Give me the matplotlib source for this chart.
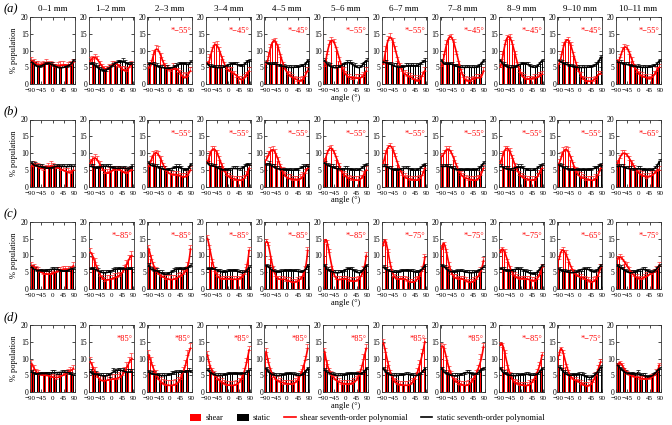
import numpy as np
import matplotlib
matplotlib.use("Agg")
import matplotlib.pyplot as plt
from matplotlib.patches import Patch
from matplotlib.lines import Line2D

# 字体设置（衬线体，接近原图）
plt.rcParams['font.family'] = ['Liberation Serif', 'DejaVu Serif']
plt.rcParams['axes.unicode_minus'] = True

# 角度分箱中心
angles = [-85, -75, -65, -55, -45, -35, -25, -15, -5, 5, 15, 25, 35, 45, 55, 65, 75, 85]
col_titles = ['0–1 mm', '1–2 mm', '2–3 mm', '3–4 mm', '4–5 mm', '5–6 mm',
              '6–7 mm', '7–8 mm', '8–9 mm', '9–10 mm', '10–11 mm']
row_tags = ['(a)', '(b)', '(c)', '(d)']

# ---- (a) ----
shear_a = [
    [7, 6.5, 6, 6, 5.5, 6, 6.5, 6, 6, 5.5, 5, 5.5, 6, 6, 5, 5.5, 6, 6.5],
    [7, 7.5, 8, 7.5, 6, 5, 4.5, 4.5, 5, 6, 6, 5.5, 5, 4.5, 4.5, 4, 5, 6],
    [5, 6, 9, 10.5, 10, 8, 6, 5, 4.5, 4, 5, 4.5, 3.5, 3, 2.5, 2, 2.5, 4],
    [6, 8, 10, 11.5, 11.8, 10, 7.5, 5.5, 4.5, 4, 4, 3, 2, 1.5, 1.5, 2, 2.5, 4],
    [6, 8.5, 11, 12.5, 12.8, 11, 8, 5.5, 4.5, 3, 2.5, 2, 1.5, 1, 1, 1.5, 2.5, 4],
    [5.5, 9, 12, 13, 12.5, 10, 7, 5, 4, 3, 2, 1.5, 1.5, 2, 2, 2, 2.5, 4],
    [6, 10, 13, 14, 12.5, 10, 7, 5, 4, 3, 2.5, 2, 1.5, 1.5, 1, 1.5, 2.5, 4],
    [5.5, 9, 12, 13.5, 14, 12.5, 9, 6, 3.5, 2, 1.5, 1, 1, 1.5, 2, 2, 2, 4],
    [5, 9, 12, 13.5, 14, 12, 9, 5.5, 3.5, 2.5, 2, 1.5, 1.5, 1.5, 2, 2, 2.5, 3],
    [6, 9, 11.5, 12.5, 13, 11.5, 8.5, 5.5, 4, 2.5, 1.5, 1, 1, 1, 1, 1.5, 3, 3],
    [6.5, 8, 10, 11, 10.5, 9, 7, 5, 3.5, 3, 2.5, 2, 2, 1.5, 2, 3, 4, 5],
]
static_a = [
    [6.5, 6, 5.5, 5, 5.5, 6, 6, 6, 6, 5.5, 5, 5, 5, 5, 5, 5.5, 6, 7],
    [6, 6, 5.5, 5, 4.5, 4, 4, 4.5, 5, 5.5, 6, 6.5, 6.5, 7, 6.5, 6, 6, 6],
    [6, 6, 6, 5.5, 5, 5, 5, 5, 4.5, 4.5, 5, 5.5, 6, 6, 6, 6, 6, 6.5],
    [6, 5.5, 5, 5, 5, 5, 5, 5, 5.5, 6, 6, 6, 6, 5.5, 5.5, 6, 6.5, 7],
    [6.5, 6, 6, 6, 6, 5.5, 5.5, 5.5, 5, 5, 5, 5, 5, 5, 5.5, 5.5, 6, 7],
    [7, 6, 5.5, 5, 5, 5, 5, 5.5, 6, 6.5, 6.5, 6, 5.5, 5, 5, 5.5, 6, 7],
    [6.5, 6.5, 6, 6, 5.5, 5.5, 5, 5, 5, 5.5, 5.5, 5.5, 5.5, 5.5, 5.5, 6, 6.5, 7],
    [7, 6, 6, 6, 6, 5.5, 5.5, 5, 5, 5, 5, 5, 5, 5, 5, 5.5, 6, 7],
    [7, 6, 5.5, 5, 5, 5, 5, 5.5, 6, 6, 6, 6, 5.5, 5, 5, 5.5, 6, 7],
    [7, 6.5, 6, 6, 5.5, 5.5, 5, 5, 5, 5, 5, 5, 5, 5, 5.5, 6, 6.5, 8],
    [6.5, 6.5, 6, 6, 6, 5.5, 5.5, 5, 5.5, 5, 5, 5, 5, 5, 5.5, 5.5, 6, 7],
]
shear_err_a = [1.0, 1.0, 1.2, 1.0, 1.0, 1.0, 1.2, 1.0, 1.0, 1.0, 1.0]
static_err_a = [0.6, 0.7, 0.7, 0.6, 0.6, 0.7, 0.7, 0.6, 0.6, 0.6, 0.6]
note_a = ['', '', '*−55°', '*−45°', '*−45°', '*−55°', '*−55°', '*−45°', '*−45°', '*−45°', '*−55°']

# ---- (b) ----
shear_b = [
    [6, 6.5, 6, 6, 5.5, 5, 5.5, 6, 6.5, 6, 5.5, 5.5, 5, 5, 4.5, 4.5, 4, 5],
    [7, 8, 8.5, 8, 6.5, 5, 4, 4, 4.5, 5, 5, 5, 5, 4.5, 4.5, 4, 4.5, 5],
    [6, 8, 9.5, 10, 9.5, 8, 6, 5, 4, 4, 3.5, 3.5, 3.5, 3, 3, 3, 3.5, 5],
    [7, 9.5, 11, 11, 10, 8, 6, 4.5, 3.5, 3, 2.5, 2, 2, 2, 2, 2.5, 3.5, 5.5],
    [8, 9.5, 10.5, 11, 10, 7.5, 5.5, 4.5, 3, 2.5, 2.5, 2, 2, 2, 2.5, 3, 4, 5.5],
    [7.5, 10, 11, 11.5, 10, 8, 6, 4.5, 3.5, 3, 2.5, 2, 2, 2, 2, 2.5, 3.5, 5],
    [7, 10, 11.5, 12, 11, 9, 6.5, 4.5, 3.5, 3, 2.5, 2, 2, 2, 2, 2.5, 3.5, 5.5],
    [9, 10, 11, 11, 10, 8, 6, 4.5, 3.5, 3, 2.5, 2, 2, 2, 2, 2.5, 3.5, 5.5],
    [7, 9.5, 11, 11, 10.5, 8.5, 6, 4.5, 3.5, 3, 2.5, 2, 2, 2, 2, 3, 4, 5.5],
    [7, 9, 10.5, 11, 10.5, 8, 6, 4.5, 3.5, 3, 2.5, 2, 2, 2, 2, 2.5, 3.5, 5.5],
    [7, 8.5, 10, 10, 9, 8, 7, 5.5, 4.5, 4, 3.5, 3, 2.5, 3, 3.5, 4, 4.5, 5],
]
static_b = [
    [7, 6.5, 6, 6, 6, 5.5, 5.5, 5.5, 5.5, 6, 6, 6, 6, 6, 6, 6, 6, 6],
    [6, 6, 5.5, 5.5, 6, 6, 6, 6, 6, 5.5, 5.5, 5.5, 5.5, 5.5, 5.5, 5, 5.5, 6],
    [7, 6.5, 6, 6, 5.5, 5.5, 5.5, 5, 5, 5, 5.5, 6, 6, 5.5, 5, 5, 5.5, 6.5],
    [7, 6.5, 6, 6, 5.5, 5.5, 5, 5, 5, 5, 5.5, 5.5, 5.5, 5, 5.5, 6, 6.5, 6.5],
    [6.5, 7, 6, 6, 5.5, 5.5, 5, 5, 5, 5, 5, 5, 5, 5, 5.5, 6, 6, 6],
    [7, 6.5, 6, 6, 5.5, 5.5, 5, 5, 5.5, 5.5, 5, 5, 5, 5, 5, 5.5, 6, 6.5],
    [6, 6, 5.5, 5.5, 5, 5, 5, 5, 5.5, 5.5, 5.5, 5, 5, 5, 5, 5.5, 6, 6.5],
    [6, 6, 6, 6, 5.5, 5.5, 5, 5, 5, 5, 5, 5, 5, 5, 5, 5.5, 6, 7],
    [6, 5.5, 5.5, 5.5, 5, 5, 5.5, 6, 6, 5.5, 5, 5, 5, 5, 5, 5.5, 6, 6.5],
    [6.5, 6, 5.5, 5.5, 5, 5, 5, 5, 5, 5, 5, 5, 5, 5, 5.5, 5.5, 6, 6.5],
    [6, 6, 6, 5.5, 5.5, 5.5, 5, 5, 5.5, 5.5, 5, 5, 5, 5, 5, 5.5, 6, 7.5],
]
shear_err_b = [1.0, 1.2, 1.0, 1.0, 1.2, 1.0, 1.0, 1.0, 1.0, 1.2, 1.0]
static_err_b = [0.7, 0.7, 0.6, 0.6, 0.6, 0.6, 0.6, 0.6, 0.6, 0.6, 0.6]
note_b = ['', '', '*−55°', '*−55°', '*−55°', '*−55°', '*−55°', '*−55°', '*−55°', '*−55°', '*−65°']

# ---- (c) ----
shear_c = [
    [7, 6.5, 6, 5.5, 5, 4.5, 4.5, 4.5, 4.5, 5, 5, 5.5, 5.5, 6, 6, 6, 6, 7],
    [11, 9.5, 8, 6, 4, 3, 2.5, 3, 3, 3, 3.5, 3.5, 4, 5, 6, 7.5, 9, 10],
    [12, 9, 7, 5.5, 4.5, 4, 3.5, 3, 3, 3, 3, 3, 3.5, 4, 4.5, 5.5, 7, 12],
    [15, 12, 8, 5.5, 4, 3.5, 3, 3, 3, 3, 3, 3, 3, 3, 3.5, 4.5, 6.5, 11.5],
    [14, 13, 9, 6, 4, 3, 3, 3, 2.5, 2.5, 2.5, 2, 2, 2.5, 3, 4, 6, 11.5],
    [14, 13.5, 11, 6, 4, 3, 3, 3, 3, 3, 2.5, 2.5, 2.5, 2.5, 3, 4, 6, 10],
    [13, 14, 11, 7, 4, 3.5, 3, 3, 3, 3, 2.5, 2, 2, 2.5, 3, 4, 6, 9.5],
    [12, 13, 11, 7, 4.5, 3.5, 3.5, 3, 3, 3, 2.5, 2, 2, 2.5, 3, 4, 5.5, 8.5],
    [11, 11.5, 11, 8, 6, 4.5, 4, 3.5, 3, 3, 3, 3, 3, 2.5, 2.5, 3, 4.5, 6.5],
    [9, 11, 11.5, 10.5, 8, 6, 5, 4.5, 4, 3.5, 3, 3, 2.5, 2, 2.5, 3, 4, 6.5],
    [9, 9.5, 9, 7.5, 7, 5.5, 4.5, 4, 3.5, 3, 3, 3.5, 4, 4.5, 4.5, 5, 6, 7],
]
static_c = [
    [6.5, 6, 5.5, 5.5, 5.5, 5.5, 5.5, 5.5, 6, 6, 6, 5.5, 5.5, 5.5, 5.5, 5.5, 6, 6],
    [6, 6, 6, 5.5, 5, 5, 5, 5, 5, 5.5, 6, 6, 6, 6, 6, 6, 6, 6],
    [7, 6, 5.5, 5.5, 5, 5, 4.5, 4.5, 4.5, 5, 5.5, 6, 6, 6, 6, 6, 6.5, 7],
    [6, 6, 6, 6, 5.5, 5.5, 5, 5, 5.5, 5.5, 5.5, 5.5, 5.5, 5, 5, 5, 5.5, 6.5],
    [7, 6.5, 6, 5.5, 5, 5, 5.5, 5.5, 5.5, 5.5, 5.5, 5.5, 5.5, 5.5, 5, 5, 6, 7],
    [7, 6, 5.5, 5, 5, 5, 5, 5, 5.5, 6, 6, 6, 5.5, 5, 5, 5, 6, 7],
    [6.5, 6, 5.5, 5.5, 5, 5, 5, 5.5, 5.5, 5.5, 5.5, 5.5, 5.5, 5, 5, 5.5, 6, 7],
    [7, 6.5, 6, 5.5, 5, 5, 5.5, 5.5, 5.5, 5, 5, 5, 5, 5, 5, 5.5, 6, 6.5],
    [6, 6, 5.5, 5.5, 5.5, 5.5, 6, 6, 6, 5.5, 5.5, 5, 5, 4.5, 4.5, 5, 6, 7],
    [6, 5.5, 5.5, 5, 5, 5, 5, 5, 5.5, 5.5, 6, 6, 6, 5.5, 5, 5.5, 6, 7],
    [7, 6.5, 6, 5.5, 5, 5, 5, 5, 5.5, 5.5, 6, 6, 5.5, 5, 5, 5.5, 6, 7],
]
shear_err_c = [1.0, 1.2, 1.2, 1.0, 1.0, 1.0, 1.0, 1.0, 1.0, 1.0, 1.0]
static_err_c = [0.6, 0.7, 0.7, 0.6, 0.6, 0.6, 0.6, 0.6, 0.6, 0.6, 0.6]
note_c = ['', '*−85°', '*−85°', '*−85°', '*−85°', '*−85°', '*−75°', '*−75°', '*−75°', '*−65°', '*−75°']

# ---- (d) ----
shear_d = [
    [8.5, 7, 6, 5.5, 5, 5, 5, 5, 4.5, 4.5, 4, 4.5, 5, 5, 5.5, 6, 6.5, 7],
    [9, 7.5, 6, 4.5, 3.5, 3.5, 3.5, 3.5, 3.5, 4, 4, 4, 4.5, 5, 6, 7.5, 9, 10],
    [11, 9, 6.5, 5, 4, 3, 2.5, 2, 2, 2, 2, 2.5, 3, 4, 6, 8, 11, 13],
    [11, 8, 6, 5, 4, 3.5, 3, 2.5, 2, 2, 2, 2, 2.5, 3, 4, 6, 9, 12.5],
    [12, 9, 6, 4.5, 4, 3.5, 3, 2.5, 2.5, 2.5, 2.5, 2.5, 3, 3.5, 5, 7, 9.5, 13],
    [12, 8.5, 6, 5, 4, 3.5, 3, 2.5, 2.5, 2.5, 2.5, 2.5, 3, 3.5, 5, 7, 10, 13],
    [14.5, 12, 8, 5.5, 4, 3, 2.5, 2, 2, 2, 2, 2.5, 3, 4, 6, 8.5, 11.5, 15],
    [13.5, 13, 9.5, 6.5, 5, 4, 3, 2.5, 2, 2, 2, 2.5, 3, 4, 5.5, 7, 10, 13.5],
    [14, 13.5, 11.5, 7, 5, 4, 3, 2.5, 2, 2, 2, 2, 2.5, 3, 4, 6, 8, 11],
    [11, 12.5, 11.5, 7.5, 5.5, 4.5, 4, 3.5, 3, 2.5, 2, 2, 2, 2.5, 3, 5, 7, 9],
    [8, 8.5, 8, 6.5, 5.5, 5, 5, 4.5, 4.5, 4, 4, 4, 4, 4, 4.5, 5, 6, 8],
]
static_d = [
    [6, 5.5, 5.5, 5.5, 5.5, 5.5, 5.5, 5.5, 6, 6, 5.5, 5.5, 6, 6, 6, 5.5, 5.5, 5],
    [6, 5.5, 5.5, 5, 5, 5, 5, 5, 4.5, 6.5, 6, 6.5, 6.5, 6.5, 6, 6, 6, 6],
    [6, 5.5, 5.5, 5, 5, 5, 5, 5, 5, 5.5, 5.5, 6, 6, 6, 6, 6, 6.5, 6],
    [6.5, 6, 5.5, 5, 5, 5, 5, 5, 5.5, 5.5, 5.5, 5.5, 5.5, 5.5, 5.5, 5.5, 6, 6.5],
    [7, 6, 5.5, 5, 5, 5, 5, 5, 5.5, 5.5, 5.5, 5.5, 5, 5, 5, 5.5, 6, 7],
    [6.5, 6, 5.5, 5.5, 5, 5, 5, 5, 5, 5.5, 5.5, 5.5, 5.5, 5.5, 5.5, 5.5, 6, 7],
    [7, 6, 5.5, 5, 5, 5, 5, 5, 5, 5.5, 5.5, 5, 5, 5, 5, 5.5, 6, 7],
    [7, 6, 5.5, 5, 5, 5, 5, 5, 5, 5.5, 6, 6, 5.5, 5, 5.5, 6, 6.5, 7],
    [7, 6, 5.5, 5, 5, 5, 5, 5, 5, 5, 5.5, 5.5, 5, 5, 5, 5.5, 6, 7],
    [7.5, 6.5, 6, 5.5, 5, 5, 5, 5, 5.5, 5.5, 5, 4.5, 4, 4.5, 5, 5.5, 6, 7.5],
    [8, 7, 6.5, 6, 5.5, 5.5, 5.5, 5, 6, 5, 5, 5, 4.5, 4.5, 5, 5.5, 6, 7],
]
shear_err_d = [1.0, 1.5, 1.5, 1.2, 1.2, 1.2, 1.2, 1.2, 1.0, 1.0, 0.8]
static_err_d = [0.6, 0.8, 0.7, 0.6, 0.6, 0.6, 0.6, 0.6, 0.6, 0.6, 0.6]
note_d = ['', '*85°', '*85°', '*85°', '*85°', '*85°', '*85°', '*85°', '*−85°', '*−75°', '']

rows = [
    (shear_a, static_a, shear_err_a, static_err_a, note_a),
    (shear_b, static_b, shear_err_b, static_err_b, note_b),
    (shear_c, static_c, shear_err_c, static_err_c, note_c),
    (shear_d, static_d, shear_err_d, static_err_d, note_d),
]

W, H = 672, 425
row_tops = [17, 119.5, 222, 325]   # 像素
col_left0, col_step, ax_w, ax_h = 30, 58.6, 45, 67


def draw_panel(ax, shear, static, s_err, t_err, note):
    """画单个小图：柱状图 + 误差线 + 七次多项式拟合"""
    x = np.array(angles, dtype=float)
    shear = np.array(shear, dtype=float)
    static = np.array(static, dtype=float)

    ax.bar(x - 2.4, shear, width=3.2, color='#ff0000', linewidth=0, zorder=2)
    ax.bar(x + 2.4, static, width=3.2, color='#000000', linewidth=0, zorder=2)
    ax.errorbar(x - 2.4, shear, yerr=[np.zeros_like(shear), np.full_like(shear, s_err)],
                fmt='none', ecolor='#ff3030', elinewidth=0.5, capsize=1.5, capthick=0.5, zorder=3)
    ax.errorbar(x + 2.4, static, yerr=[np.zeros_like(static), np.full_like(static, t_err)],
                fmt='none', ecolor='#000000', elinewidth=0.5, capsize=1.5, capthick=0.5, zorder=3)

    # 七次多项式拟合
    xs = np.linspace(-85, 85, 120)
    p_s = np.polynomial.Polynomial.fit(x, shear, 7)
    p_t = np.polynomial.Polynomial.fit(x, static, 7)
    ax.plot(xs, p_s(xs), color='#ff0000', lw=1.2, zorder=4)
    ax.plot(xs, p_t(xs), color='#000000', lw=1.2, zorder=4)

    if note:
        ax.text(0.97, 0.79, note, transform=ax.transAxes, ha='right', va='center',
                color='#ff0000', fontsize=6)

    ax.set_xlim(-92, 92)
    ax.set_ylim(0, 20)
    ax.set_xticks([-90, -45, 0, 45, 90])
    ax.set_yticks([0, 5, 10, 15, 20])
    ax.tick_params(direction='in', length=2, width=0.5, top=True, right=True)
    ax.tick_params(axis='x', labelsize=5, pad=3)
    ax.tick_params(axis='y', labelsize=5.5, pad=1)
    for sp in ax.spines.values():
        sp.set_linewidth(0.6)
        sp.set_color('#333333')


fig = plt.figure(figsize=(W / 100, H / 100), dpi=100)

for r, (shear_rows, static_rows, s_errs, t_errs, notes) in enumerate(rows):
    top = row_tops[r]
    for c in range(11):
        left = col_left0 + col_step * c
        ax = fig.add_axes([left / W, 1 - (top + ax_h) / H, ax_w / W, ax_h / H])
        draw_panel(ax, shear_rows[c], static_rows[c], s_errs[c], t_errs[c], notes[c])
        if r == 0:
            ax.set_title(col_titles[c], fontsize=6.5, pad=4)
        if c == 0:
            ax.set_ylabel('% population', fontsize=6, labelpad=2)
        if c == 5:
            ax.set_xlabel('angle (°)', fontsize=6, labelpad=0.5)
    fig.text(4 / W, 1 - (top - 8) / H, row_tags[r], fontsize=9, style='italic',
             ha='left', va='center')

handles = [
    Patch(facecolor='#ff0000', edgecolor='none', label='shear'),
    Patch(facecolor='#000000', edgecolor='none', label='static'),
    Line2D([], [], color='#ff0000', lw=1.2, label='shear seventh-order polynomial'),
    Line2D([], [], color='#000000', lw=1.2, label='static seventh-order polynomial'),
]
fig.legend(handles=handles, loc='center', ncol=4, frameon=False, fontsize=6,
           bbox_to_anchor=(367 / W, 1 - 418 / H), handlelength=1.4, handleheight=1.0,
           columnspacing=1.6, handletextpad=0.5)

fig.savefig('out.png', dpi=100)
plt.close(fig)
